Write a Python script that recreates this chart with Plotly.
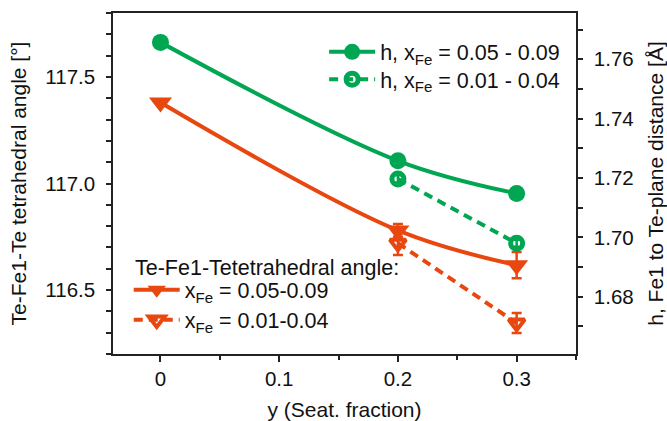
import plotly.graph_objects as go

# ---- data ----
x_h_high = [0.0, 0.2, 0.3]
h_high = [1.7657, 1.7258, 1.7148]
h_high_err = [0.0008, 0.0008, 0.0008]

x_h_low = [0.2, 0.3]
h_low = [1.7197, 1.6980]
h_low_err = [0.0012, 0.0012]

x_ang_high = [0.0, 0.2, 0.3]
ang_high = [117.38, 116.78, 116.617]
ang_high_err = [0.01, 0.03, 0.062]

x_ang_low = [0.2, 0.3]
ang_low = [116.72, 116.345]
ang_low_err = [0.055, 0.047]

x_ticks = [0, 0.1, 0.2, 0.3]
x_tick_labels = ["0", "0.1", "0.2", "0.3"]
y_ticks = [116.5, 117.0, 117.5]
y_tick_labels = ["116.5", "117.0", "117.5"]
y2_ticks = [1.68, 1.70, 1.72, 1.74, 1.76]
y2_tick_labels = ["1.68", "1.70", "1.72", "1.74", "1.76"]

GREEN = "#00A651"
ORANGE = "#E8470F"
FONT = "Arial, Liberation Sans, sans-serif"
AX = "#222222"
TXT = "#111111"

fig = go.Figure()

fig.add_trace(go.Scatter(
    x=x_ang_high, y=ang_high, yaxis="y", mode="lines+markers",
    name="x<sub>Fe</sub> = 0.05-0.09", legend="legend3", showlegend=True,
    line=dict(color=ORANGE, width=4, shape="spline", smoothing=1),
    marker=dict(symbol="triangle-down", size=20, color=ORANGE),
    error_y=dict(type="data", array=ang_high_err, color=ORANGE, thickness=2.5, width=5),
))
fig.add_trace(go.Scatter(
    x=x_ang_low, y=ang_low, yaxis="y", mode="lines+markers",
    name="x<sub>Fe</sub> = 0.01-0.04", legend="legend4", showlegend=True,
    line=dict(color=ORANGE, width=4, dash="9px,6px"),
    marker=dict(symbol="triangle-down-open", size=14, color=ORANGE,
                line=dict(width=4, color=ORANGE)),
    error_y=dict(type="data", array=ang_low_err, color=ORANGE, thickness=2.5, width=5),
))
fig.add_trace(go.Scatter(
    x=x_h_high, y=h_high, yaxis="y2", mode="lines+markers",
    name="h, x<sub>Fe</sub> = 0.05 - 0.09", legend="legend", showlegend=True,
    line=dict(color=GREEN, width=4, shape="spline", smoothing=1),
    marker=dict(symbol="circle", size=17, color=GREEN),
    error_y=dict(type="data", array=h_high_err, color=GREEN, thickness=2.5, width=4),
))
fig.add_trace(go.Scatter(
    x=x_h_low, y=h_low, yaxis="y2", mode="lines+markers",
    name="h, x<sub>Fe</sub> = 0.01 - 0.04", legend="legend2", showlegend=True,
    line=dict(color=GREEN, width=4, dash="9px,6px"),
    marker=dict(symbol="circle-open", size=12, color=GREEN,
                line=dict(width=5, color=GREEN)),
    error_y=dict(type="data", array=h_low_err, color=GREEN, thickness=2.5, width=4),
))


def leg(x, y):
    return dict(x=x, y=y, xanchor="left", yanchor="middle",
                bgcolor="rgba(0,0,0,0)", itemwidth=46,
                font=dict(size=21.5, color=TXT))


fig.update_layout(
    width=667, height=421,
    margin=dict(l=113, r=91, t=13, b=67, autoexpand=False),
    paper_bgcolor="white", plot_bgcolor="white",
    showlegend=True,
    font=dict(family=FONT, size=20.5, color=TXT),
    xaxis=dict(
        range=[-0.04, 0.35], tickvals=x_ticks, ticktext=x_tick_labels,
        showline=True, linecolor=AX, linewidth=1.5, mirror=True,
        ticks="outside", ticklen=6, tickwidth=1.5, tickcolor=AX,
        minor=dict(dtick=0.05, ticks="outside", ticklen=4, tickwidth=1.5, tickcolor=AX),
        showgrid=False, zeroline=False, automargin=False,
        title=dict(text="y (Seat. fraction)", standoff=15, font=dict(size=21)),
    ),
    yaxis=dict(
        range=[116.2, 117.8], tickvals=y_ticks, ticktext=y_tick_labels,
        showline=True, linecolor=AX, linewidth=1.5,
        ticks="outside", ticklen=5, tickwidth=1.5, tickcolor=AX,
        minor=dict(dtick=0.1, ticks="outside", ticklen=5, tickwidth=1.5, tickcolor=AX),
        showgrid=False, zeroline=False, ticklabelstandoff=7, automargin=False,
        title=dict(text="Te-Fe1-Te tetrahedral angle [°]", standoff=13, font=dict(size=21)),
    ),
    yaxis2=dict(
        range=[1.6607, 1.7756], tickvals=y2_ticks, ticktext=y2_tick_labels,
        overlaying="y", side="right",
        showline=True, linecolor=AX, linewidth=1.5,
        ticks="outside", ticklen=5, tickwidth=1.5, tickcolor=AX,
        minor=dict(dtick=0.01, ticks="outside", ticklen=5, tickwidth=1.5, tickcolor=AX),
        showgrid=False, zeroline=False, ticklabelstandoff=7, automargin=False,
        title=dict(text="h, Fe1 to Te-plane distance [Å]", standoff=18, font=dict(size=21)),
    ),
    legend=leg(0.456, 0.886),
    legend2=leg(0.456, 0.806),
    legend3=leg(0.034, 0.188),
    legend4=leg(0.034, 0.100),
    annotations=[dict(
        text="Te-Fe1-Tetetrahedral angle:", xref="paper", yref="paper",
        x=0.043, y=0.252, xanchor="left", yanchor="middle", showarrow=False,
        font=dict(size=21.5, color=TXT),
    )],
)

fig.write_html("out.html")
